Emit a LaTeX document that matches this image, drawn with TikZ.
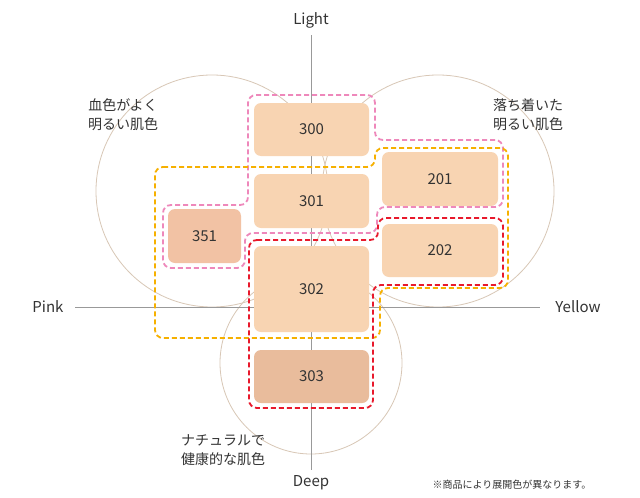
\documentclass[tikz,border=0pt]{standalone}
\usepackage{fontspec}
\setmainfont{Noto Sans CJK JP}
\begin{document}
\begin{tikzpicture}[x=1pt,y=-1pt,
  box/.style={draw=none,rounded corners=7pt,font=\fontsize{15}{15}\selectfont,text=black!80},
  lbl/.style={font=\fontsize{15}{15}\selectfont,text=black!80},
  note/.style={font=\fontsize{14}{19}\selectfont,text=black!80,align=center},
  circ/.style={draw=circ,line width=0.8pt},
  axis/.style={draw=gray!80,line width=0.8pt},
  grp/.style={dashed,dash pattern=on 5pt off 3pt,line width=1.8pt,rounded corners=8pt}]
\definecolor{skin}{HTML}{F8D4B2}
\definecolor{skinb}{HTML}{F2C2A4}
\definecolor{skinc}{HTML}{E9BC9C}
\definecolor{circ}{HTML}{D8C7B6}
\definecolor{pinkd}{HTML}{EE88BB}
\definecolor{orad}{HTML}{F6B000}
\definecolor{redd}{HTML}{E8192C}
\useasboundingbox[fill=white] (0,0) rectangle (640,498);
\draw[circ] (212,191) circle (116);
\draw[circ] (438,191) circle (116);
\draw[circ] (311,363) circle (91);
\coordinate (top) at (311,35);
\coordinate (bot) at (311,470);
\coordinate (lft) at (75,307);
\coordinate (rgt) at (540,307);
\draw[axis] (top) -- (bot);
\draw[axis] (lft) -- (rgt);
\node[lbl] (light) at (311,20) {Light};
\node[lbl] (deep) at (311,483) {Deep};
\node[lbl] (pink) at (48,307) {Pink};
\node[lbl] (yellow) at (578,307) {Yellow};
\node[box,fill=skin] (b300) at (311.5,129.5) [minimum width=115pt,minimum height=53pt] {300};
\node[box,fill=skin] (b301) at (311.5,201) [minimum width=115pt,minimum height=54pt] {301};
\node[box,fill=skin] (b302) at (311.5,289) [minimum width=115pt,minimum height=86pt] {302};
\node[box,fill=skinc] (b303) at (311.5,376.5) [minimum width=115pt,minimum height=53pt] {303};
\node[box,fill=skinb] (b351) at (204.5,236) [minimum width=73pt,minimum height=54pt] {351};
\node[box,fill=skin] (b201) at (440,179) [minimum width=116pt,minimum height=54pt] {201};
\node[box,fill=skin] (b202) at (440,250.5) [minimum width=116pt,minimum height=53pt] {202};
\draw[grp,draw=pinkd] (248,95) -- (375,95) -- (375,140) -- (503,140) -- (503,207) -- (377,207) -- (377,233) -- (245,233) -- (245,268) -- (163,268) -- (163,205) -- (248,205) -- cycle;
\draw[grp,draw=orad] (155,167) -- (375,167) -- (375,148) -- (508,148) -- (508,288) -- (380,288) -- (380,338) -- (155,338) -- cycle;
\draw[grp,draw=redd] (249,240) -- (378,240) -- (378,218) -- (503,218) -- (503,285) -- (373,285) -- (373,408) -- (249,408) -- cycle;
\node[note] (t1) at (123,115) {血色がよく\\明るい肌色};
\node[note] (t2) at (528,115) {落ち着いた\\明るい肌色};
\node[note] (t3) at (223,450) {ナチュラルで\\健康的な肌色};
\node[font=\fontsize{10}{10}\selectfont,text=black!80] (t4) at (512,485) {※商品により展開色が異なります。};
\end{tikzpicture}
\end{document}
